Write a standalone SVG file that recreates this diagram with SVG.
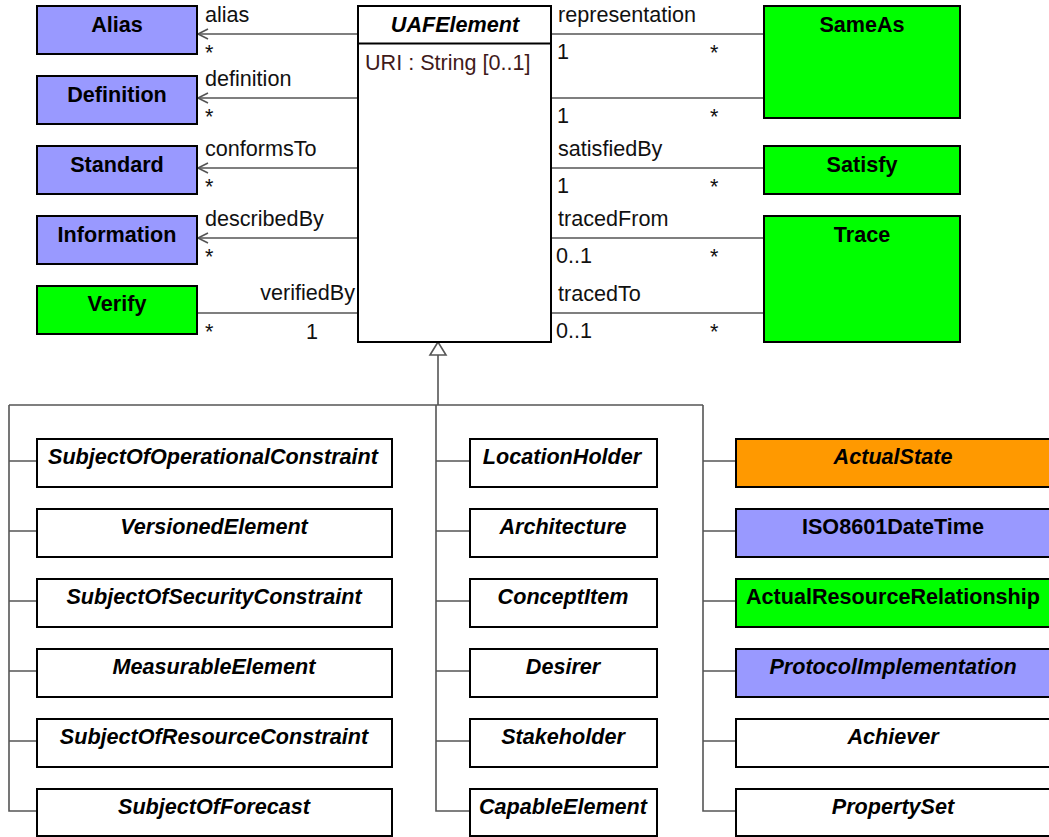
<svg xmlns="http://www.w3.org/2000/svg" width="1049" height="837" viewBox="0 0 1049 837">
<style>
.box{stroke:#000;stroke-width:2}
.w{fill:#fff}.b{fill:#9999ff}.g{fill:#00ff00}.o{fill:#ff9900}
.nm{font-family:"Liberation Sans",Arial,sans-serif;font-size:21.6px;font-weight:bold;fill:#000;text-anchor:middle}
.it{font-style:italic}
.lb{font-family:"Liberation Sans",Arial,sans-serif;font-size:21.6px;fill:#111}
.cn{fill:none;stroke:#555;stroke-width:1.6}
</style>
<defs>
<marker id="open" markerUnits="userSpaceOnUse" markerWidth="14" markerHeight="14" refX="11" refY="6" orient="auto">
<path d="M1,1 L11,6 L1,11" fill="none" stroke="#555" stroke-width="1.6"/>
</marker>
</defs>
<g id="connectors">
<line class="cn" x1="358" y1="34" x2="198" y2="34" marker-end="url(#open)"/>
<line class="cn" x1="358" y1="98" x2="198" y2="98" marker-end="url(#open)"/>
<line class="cn" x1="358" y1="168" x2="198" y2="168" marker-end="url(#open)"/>
<line class="cn" x1="358" y1="238" x2="198" y2="238" marker-end="url(#open)"/>
<line class="cn" x1="358" y1="313" x2="197" y2="313"/>
<line class="cn" x1="551" y1="34" x2="764" y2="34"/>
<line class="cn" x1="551" y1="98" x2="764" y2="98"/>
<line class="cn" x1="551" y1="168" x2="764" y2="168"/>
<line class="cn" x1="551" y1="238" x2="764" y2="238"/>
<line class="cn" x1="551" y1="313" x2="764" y2="313"/>
<path class="cn" d="M438,355 V405"/>
<polygon points="438,342 430,355 446,355" fill="#fff" stroke="#555" stroke-width="1.6"/>
<path class="cn" d="M9,405 H703 M9,405 V811 H37 M9,461 H37 M9,531 H37 M9,601 H37 M9,671 H37 M9,741 H37"/>
<path class="cn" d="M436,405 V811 H470 M436,461 H470 M436,531 H470 M436,601 H470 M436,671 H470 M436,741 H470"/>
<path class="cn" d="M703,405 V811 H736 M703,461 H736 M703,531 H736 M703,601 H736 M703,671 H736 M703,741 H736"/>
<text class="lb" x="205" y="22">alias</text>
<text class="lb" x="205" y="60">*</text>
<text class="lb" x="205" y="86">definition</text>
<text class="lb" x="205" y="124">*</text>
<text class="lb" x="205" y="156">conformsTo</text>
<text class="lb" x="205" y="194">*</text>
<text class="lb" x="205" y="226">describedBy</text>
<text class="lb" x="205" y="264">*</text>
<text class="lb" x="355" y="300" text-anchor="end">verifiedBy</text>
<text class="lb" x="205" y="339">*</text>
<text class="lb" x="306" y="339">1</text>
<text class="lb" x="558" y="22">representation</text>
<text class="lb" x="557" y="59">1</text>
<text class="lb" x="710" y="60">*</text>
<text class="lb" x="557" y="123">1</text>
<text class="lb" x="710" y="124">*</text>
<text class="lb" x="558" y="156">satisfiedBy</text>
<text class="lb" x="557" y="193">1</text>
<text class="lb" x="710" y="194">*</text>
<text class="lb" x="558" y="226">tracedFrom</text>
<text class="lb" x="556" y="263">0..1</text>
<text class="lb" x="710" y="264">*</text>
<text class="lb" x="558" y="301">tracedTo</text>
<text class="lb" x="556" y="338">0..1</text>
<text class="lb" x="710" y="339">*</text>
</g>
<g id="UAFElement">
<rect class="box w" x="358" y="6" width="193" height="336"/>
<line x1="358" y1="43.5" x2="551" y2="43.5" stroke="#000" stroke-width="2"/>
<text class="nm it" x="455" y="32">UAFElement</text>
<text x="365" y="70" font-family="Liberation Sans,Arial,sans-serif" font-size="21.6" fill="#3f1a1a">URI : String [0..1]</text>
</g>
<g id="Alias"><rect class="box b" x="37" y="6" width="160" height="48"/><text class="nm" x="117" y="32">Alias</text></g>
<g id="Definition"><rect class="box b" x="37" y="76" width="160" height="48"/><text class="nm" x="117" y="102">Definition</text></g>
<g id="Standard"><rect class="box b" x="37" y="146" width="160" height="48"/><text class="nm" x="117" y="172">Standard</text></g>
<g id="Information"><rect class="box b" x="37" y="216" width="160" height="48"/><text class="nm" x="117" y="242">Information</text></g>
<g id="Verify"><rect class="box g" x="37" y="286" width="160" height="48"/><text class="nm" x="117" y="311">Verify</text></g>
<g id="SameAs"><rect class="box g" x="764" y="6" width="196" height="112"/><text class="nm" x="862" y="32">SameAs</text></g>
<g id="Satisfy"><rect class="box g" x="764" y="146" width="196" height="48"/><text class="nm" x="862" y="172">Satisfy</text></g>
<g id="Trace"><rect class="box g" x="764" y="216" width="196" height="126"/><text class="nm" x="862" y="242">Trace</text></g>
<g id="SubjectOfOperationalConstraint"><rect class="box w" x="37" y="439" width="355" height="48"/><text class="nm it" x="213" y="464">SubjectOfOperationalConstraint</text></g>
<g id="VersionedElement"><rect class="box w" x="37" y="509" width="355" height="48"/><text class="nm it" x="214" y="534">VersionedElement</text></g>
<g id="SubjectOfSecurityConstraint"><rect class="box w" x="37" y="579" width="355" height="48"/><text class="nm it" x="214" y="604">SubjectOfSecurityConstraint</text></g>
<g id="MeasurableElement"><rect class="box w" x="37" y="649" width="355" height="48"/><text class="nm it" x="214" y="674">MeasurableElement</text></g>
<g id="SubjectOfResourceConstraint"><rect class="box w" x="37" y="719" width="355" height="48"/><text class="nm it" x="214" y="744">SubjectOfResourceConstraint</text></g>
<g id="SubjectOfForecast"><rect class="box w" x="37" y="789" width="355" height="47"/><text class="nm it" x="214" y="814">SubjectOfForecast</text></g>
<g id="LocationHolder"><rect class="box w" x="470" y="439" width="187" height="48"/><text class="nm it" x="562" y="464">LocationHolder</text></g>
<g id="Architecture"><rect class="box w" x="470" y="509" width="187" height="48"/><text class="nm it" x="563" y="534">Architecture</text></g>
<g id="ConceptItem"><rect class="box w" x="470" y="579" width="187" height="48"/><text class="nm it" x="563" y="604">ConceptItem</text></g>
<g id="Desirer"><rect class="box w" x="470" y="649" width="187" height="48"/><text class="nm it" x="563" y="674">Desirer</text></g>
<g id="Stakeholder"><rect class="box w" x="470" y="719" width="187" height="48"/><text class="nm it" x="563" y="744">Stakeholder</text></g>
<g id="CapableElement"><rect class="box w" x="470" y="789" width="187" height="47"/><text class="nm it" x="563" y="814">CapableElement</text></g>
<g id="ActualState"><rect class="box o" x="736" y="439" width="316" height="48"/><text class="nm it" x="893" y="464">ActualState</text></g>
<g id="ISO8601DateTime"><rect class="box b" x="736" y="509" width="316" height="48"/><text class="nm" x="893" y="534">ISO8601DateTime</text></g>
<g id="ActualResourceRelationship"><rect class="box g" x="736" y="579" width="316" height="48"/><text class="nm" x="893" y="604">ActualResourceRelationship</text></g>
<g id="ProtocolImplementation"><rect class="box b" x="736" y="649" width="316" height="48"/><text class="nm it" x="893" y="674">ProtocolImplementation</text></g>
<g id="Achiever"><rect class="box w" x="736" y="719" width="316" height="48"/><text class="nm it" x="893" y="744">Achiever</text></g>
<g id="PropertySet"><rect class="box w" x="736" y="789" width="316" height="47"/><text class="nm it" x="893" y="814">PropertySet</text></g>
</svg>
